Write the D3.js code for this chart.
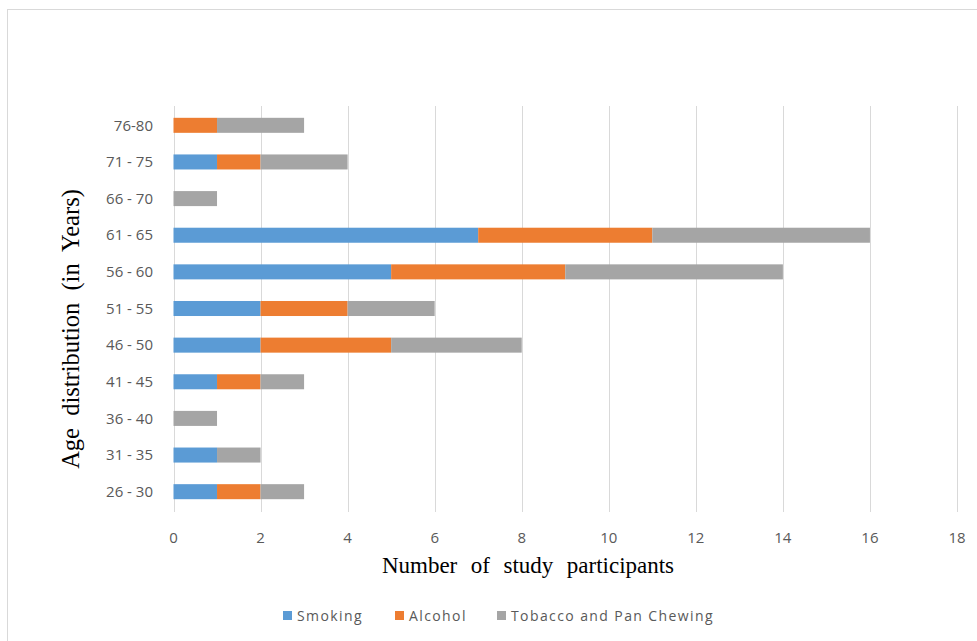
<!DOCTYPE html>
<html>
<head>
<meta charset="UTF-8">
<script src="https://cdn.jsdelivr.net/npm/d3@7"></script>
<style>
  body { margin: 0; background: #fff; }
  svg { display: block; }
</style>
</head>
<body>
<div id="chart"></div>
<script>
// age groups, top to bottom as drawn
var ageGroups = ["76-80", "71 - 75", "66 - 70", "61 - 65", "56 - 60", "51 - 55",
                 "46 - 50", "41 - 45", "36 - 40", "31 - 35", "26 - 30"];
var smoking  = [0, 1, 0, 7, 5, 2, 2, 1, 0, 1, 1];
var alcohol  = [1, 1, 0, 4, 4, 2, 3, 1, 0, 0, 1];
var tobacco  = [2, 2, 1, 5, 5, 2, 3, 1, 1, 1, 1];
var seriesNames = ["Smoking", "Alcohol", "Tobacco and Pan Chewing"];
var seriesColors = ["#5b9bd5", "#ed7d31", "#a5a5a5"];
var xTicks = [0, 2, 4, 6, 8, 10, 12, 14, 16, 18];

var W = 977, H = 641;
var svg = d3.select("#chart").append("svg")
    .attr("width", W).attr("height", H);

// chart frame
svg.append("rect")
    .attr("x", 7.5).attr("y", 9.5)
    .attr("width", W).attr("height", H)
    .attr("fill", "#fff").attr("stroke", "#d9d9d9");

var x = d3.scaleLinear().domain([0, 18]).range([173.5, 957]);
var y = d3.scaleBand().domain(ageGroups).range([107, 510]).paddingInner(0.59).paddingOuter(0.295);

var sans = "'Open Sans', 'Noto Sans', sans-serif";
var serif = "'Liberation Serif', 'DejaVu Serif', serif";

// gridlines
svg.append("g").selectAll("line")
    .data(xTicks).enter().append("line")
    .attr("x1", function (d) { return Math.round(x(d)) + 0.5; })
    .attr("x2", function (d) { return Math.round(x(d)) + 0.5; })
    .attr("y1", 106).attr("y2", 512)
    .attr("stroke", "#d9d9d9").attr("stroke-width", 1);

// stack the data
var rows = ageGroups.map(function (g, i) {
    return { group: g, Smoking: smoking[i], Alcohol: alcohol[i], "Tobacco and Pan Chewing": tobacco[i] };
});
var stacked = d3.stack().keys(seriesNames)(rows);

svg.append("g").selectAll("g")
    .data(stacked).enter().append("g")
    .attr("fill", function (d, i) { return seriesColors[i]; })
    .selectAll("rect")
    .data(function (d) { return d; }).enter().append("rect")
    .attr("x", function (d) { return x(d[0]); })
    .attr("width", function (d) { return x(d[1]) - x(d[0]); })
    .attr("y", function (d) { return y(d.data.group); })
    .attr("height", y.bandwidth());

// x tick labels
svg.append("g").selectAll("text")
    .data(xTicks).enter().append("text")
    .attr("x", function (d) { return x(d); })
    .attr("y", 543)
    .attr("text-anchor", "middle")
    .style("font-family", sans)
    .style("font-size", "15px")
    .attr("fill", "#595959")
    .text(function (d) { return d; });

// y labels
svg.append("g").selectAll("text")
    .data(ageGroups).enter().append("text")
    .attr("x", 153)
    .attr("y", function (d) { return y(d) + y.bandwidth() / 2; })
    .attr("dy", "0.35em")
    .attr("text-anchor", "end")
    .style("font-family", sans)
    .style("font-size", "15px")
    .attr("fill", "#595959")
    .text(function (d) { return d; });

// axis titles
svg.append("text")
    .attr("x", 528).attr("y", 573)
    .attr("text-anchor", "middle")
    .style("font-family", serif)
    .style("font-size", "23px")
    .style("word-spacing", "1px")
    .attr("fill", "#000")
    .style("white-space", "pre")
    .text("Number  of  study  participants");

svg.append("text")
    .attr("transform", "translate(79,329) rotate(-90)")
    .attr("text-anchor", "middle")
    .style("font-family", serif)
    .style("font-size", "24.5px")
    .attr("fill", "#000")
    .style("white-space", "pre")
    .text("Age  distribution  (in  Years)");

// legend
var legendX = [283, 395, 497];
var legend = svg.append("g").selectAll("g")
    .data(seriesNames).enter().append("g")
    .attr("transform", function (d, i) { return "translate(" + legendX[i] + ",611)"; });
legend.append("rect")
    .attr("width", 9).attr("height", 9)
    .attr("fill", function (d, i) { return seriesColors[i]; });
legend.append("text")
    .attr("x", 14).attr("y", 10)
    .style("font-family", sans)
    .style("font-size", "14px")
    .style("letter-spacing", "1.4px")
    .attr("fill", "#595959")
    .text(function (d) { return d; });
</script>
</body>
</html>
